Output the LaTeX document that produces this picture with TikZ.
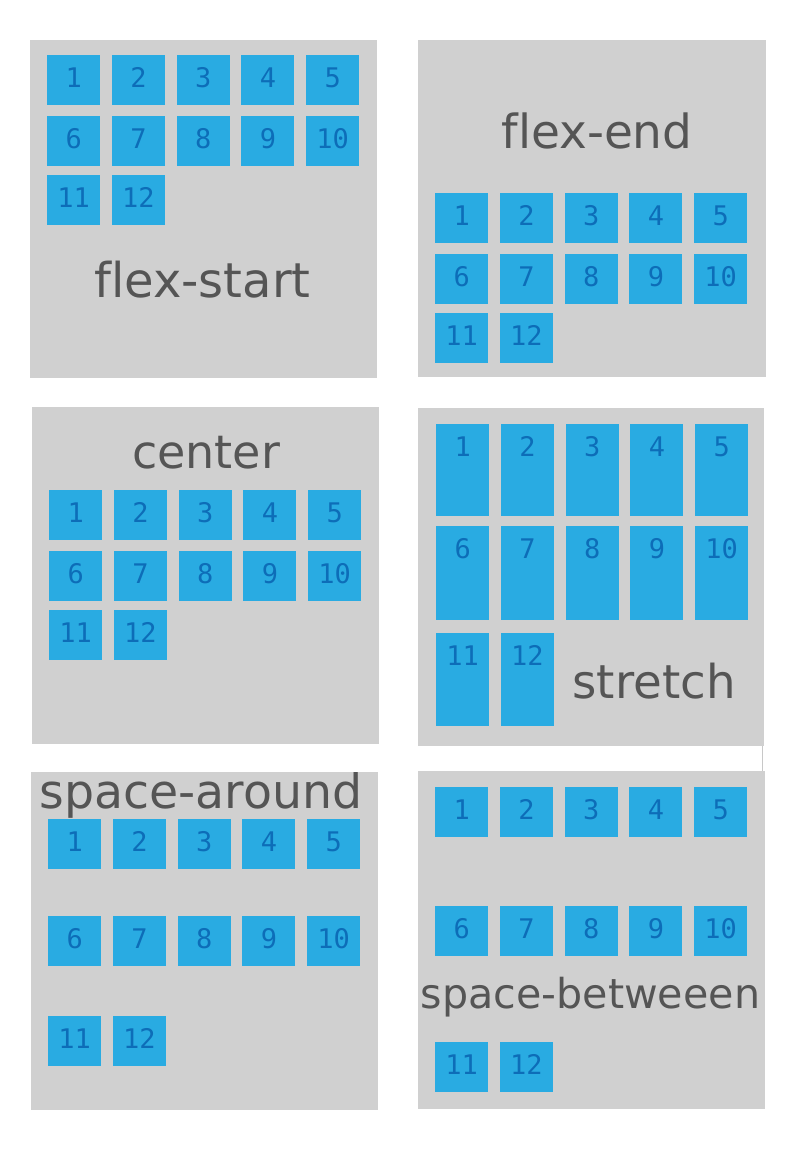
\documentclass[tikz,border=0pt]{standalone}
\usepackage{fontspec}
\setmainfont{DejaVu Sans}[Ligatures={NoCommon}]
\newfontfamily\monofnt{DejaVu Sans Mono}
\definecolor{panelgray}{HTML}{D0D0D0}
\definecolor{boxblue}{HTML}{29ABE2}
\definecolor{numblue}{HTML}{0D6DB8}
\definecolor{labelgray}{HTML}{555555}
\definecolor{seamgray}{HTML}{C8C8C8}
\newcommand\drawgrid[8]{%
  \foreach \i in {1,...,12}{%
    \pgfmathtruncatemacro\colx{mod(\i-1,5)}%
    \pgfmathtruncatemacro\rowk{div(\i-1,5)}%
    \ifcase\rowk \def\rowy{#3}\def\rowh{#6}\or \def\rowy{#4}\def\rowh{#7}\or \def\rowy{#5}\def\rowh{#8}\fi
    \node[item, minimum height=\rowh pt] (#1b\i) at ({#2+\colx*64.75},\rowy) {};
    \node[num] (#1n\i) at ([yshift=-32pt]#1b\i.north) {\i};
  }%
}
\begin{document}
\begin{tikzpicture}[x=1pt,y=-1pt,
  panel/.style={fill=panelgray,draw=none},
  item/.style={fill=boxblue,draw=none,minimum width=53pt,inner sep=0pt,anchor=north west},
  num/.style={font=\monofnt\fontsize{27}{27}\selectfont,text=numblue,anchor=base,inner sep=0pt},
  lbl/.style={text=labelgray,anchor=base,inner sep=0pt}]
\useasboundingbox[fill=white] (0,0) rectangle (801,1154);
% panels
\fill[panel] (30,40) rectangle (377,378);
\fill[panel] (418,40) rectangle (766,377);
\fill[panel] (32,407) rectangle (379,744);
\fill[panel] (418,408) rectangle (764,746);
\fill[panel] (31,772) rectangle (378,1110);
\fill[panel] (418,771) rectangle (765,1109);
\draw[seamgray,line width=1pt] (762,746) -- (762,771);
% items
\drawgrid{a}{47}{55}{116}{175}{50}{50}{50}
\drawgrid{b}{435}{193}{254}{313}{50}{50}{50}
\drawgrid{c}{49}{490}{551}{610}{50}{50}{50}
\drawgrid{d}{436}{424}{526}{633}{92}{94}{93}
\drawgrid{e}{48}{819}{916}{1016}{50}{50}{50}
\drawgrid{f}{435}{787}{906}{1042}{50}{50}{50}
% labels
\node[lbl,font=\fontsize{48}{48}\selectfont] (la) at (202.5,297) {flex-start};
\node[lbl,font=\fontsize{47}{47}\selectfont] (lb) at (597,148) {flex-end};
\node[lbl,font=\fontsize{46}{46}\selectfont] (lc) at (206,468) {center};
\node[lbl,font=\fontsize{46.7}{47}\selectfont] (ld) at (654,698) {stretch};
\node[lbl,font=\fontsize{47.4}{47}\selectfont] (le) at (201,808) {space-around};
\node[lbl,font=\fontsize{41.2}{41}\selectfont] (lf) at (590.5,1008) {space-betweeen};
\end{tikzpicture}
\end{document}
